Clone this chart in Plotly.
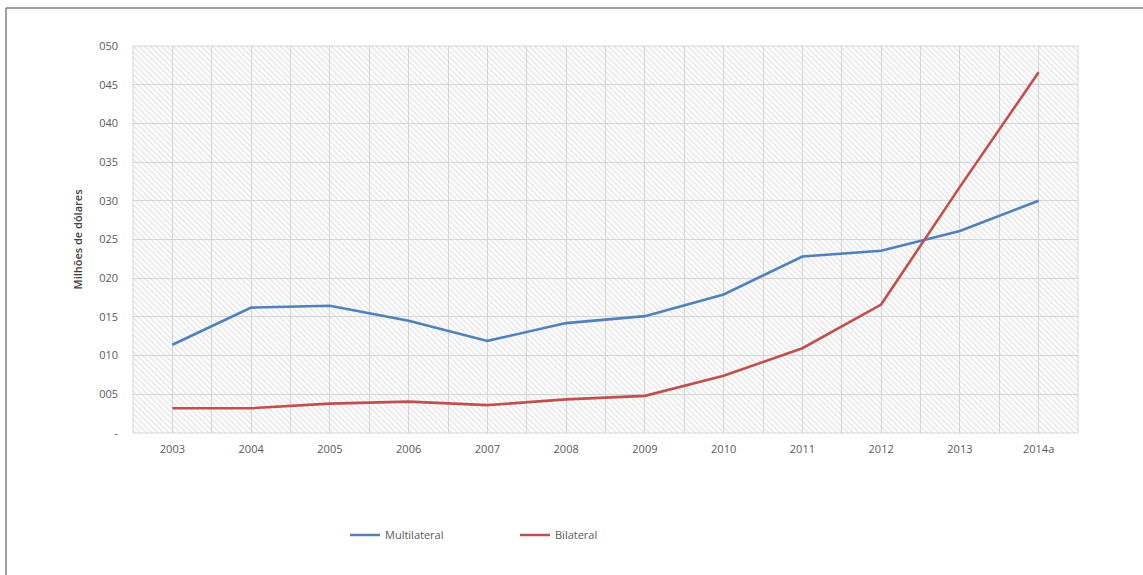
import plotly.graph_objects as go

# Categories and series values (millions of dollars)
years = ["2003", "2004", "2005", "2006", "2007", "2008", "2009",
         "2010", "2011", "2012", "2013", "2014a"]
multilateral = [11.4, 16.2, 16.45, 14.5, 11.9, 14.2, 15.1, 17.9, 22.8, 23.55, 26.1, 30.0]
bilateral = [3.2, 3.2, 3.8, 4.05, 3.6, 4.35, 4.8, 7.4, 10.95, 16.6, 31.8, 46.6]

y_ticks = [0, 5, 10, 15, 20, 25, 30, 35, 40, 45, 50]
y_tick_labels = ["-", "005", "010", "015", "020", "025", "030", "035", "040", "045", "050"]

W, H = 1143, 575
ML, MR, MT, MB = 133, 65, 46, 142

x_idx = list(range(len(years)))
x_lo, x_hi = -0.5, len(years) - 0.5
y_lo, y_hi = y_ticks[0], y_ticks[-1]

fig = go.Figure()

# Hatched plot-area background (transparent between stripes so the grid shows)
fig.add_trace(go.Scatter(
    x=[x_lo, x_hi, x_hi, x_lo, x_lo],
    y=[y_lo, y_lo, y_hi, y_hi, y_lo],
    mode="none", fill="toself", fillcolor="rgba(0,0,0,0)",
    fillpattern=dict(shape="\\", fgcolor="#d0d0d0", bgcolor="rgba(0,0,0,0)",
                     size=4, solidity=0.4),
    hoverinfo="skip", showlegend=False,
))

fig.add_trace(go.Scatter(
    x=x_idx, y=multilateral, mode="lines", name="Multilateral",
    line=dict(color="#4F81BD", width=2.6),
))
fig.add_trace(go.Scatter(
    x=x_idx, y=bilateral, mode="lines", name="Bilateral",
    line=dict(color="#C0504D", width=2.6),
))

tick_font = dict(family="Open Sans, Noto Sans, sans-serif", size=11, color="#595959")
grid = "#d6d6d6"

fig.update_layout(
    width=W, height=H,
    margin=dict(l=ML, r=MR, t=MT, b=MB),
    paper_bgcolor="white", plot_bgcolor="white",
    font=tick_font,
    legend=dict(orientation="h", x=(345 - ML) / (W - ML - MR), xanchor="left",
                y=-(535 - 433) / (433 - MT), yanchor="middle",
                font=dict(family="Open Sans, Noto Sans, sans-serif", size=11, color="#595959"),
                itemwidth=30, entrywidth=125, traceorder="normal",
                bgcolor="rgba(0,0,0,0)"),
    xaxis=dict(range=[x_lo, x_hi], tickvals=x_idx, ticktext=years,
               showgrid=True, gridcolor=grid, gridwidth=1,
               minor=dict(tick0=-0.5, dtick=1, showgrid=True, gridcolor=grid, gridwidth=1),
               zeroline=False, showline=False, ticks="", ticklabelstandoff=8,
               tickfont=tick_font, fixedrange=True),
    yaxis=dict(range=[y_lo, y_hi], tickvals=y_ticks, ticktext=y_tick_labels,
               showgrid=True, gridcolor=grid, gridwidth=1,
               zeroline=False, showline=False, ticks="", ticklabelstandoff=14,
               tickfont=tick_font, fixedrange=True,
               title=dict(text="Milhões de dólares", standoff=14,
                          font=dict(family="Open Sans, Noto Sans, sans-serif",
                                    size=11, color="#404040", weight=600))),
    shapes=[
        # plot-area frame
        dict(type="rect", xref="paper", yref="paper", x0=0, x1=1, y0=0, y1=1,
             line=dict(color=grid, width=1), layer="below"),
        # outer frame (left and top edges)
        dict(type="line", xref="paper", yref="paper",
             x0=-(ML - 6) / (W - ML - MR), x1=-(ML - 6) / (W - ML - MR),
             y0=1 + (MT - 8) / (H - MT - MB), y1=-(MB + 5) / (H - MT - MB),
             line=dict(color="#7f7f7f", width=1.5)),
        dict(type="line", xref="paper", yref="paper",
             x0=-(ML - 6) / (W - ML - MR), x1=1 + (MR + 5) / (W - ML - MR),
             y0=1 + (MT - 8) / (H - MT - MB), y1=1 + (MT - 8) / (H - MT - MB),
             line=dict(color="#7f7f7f", width=1.5)),
    ],
)

fig.write_html("out.html")
